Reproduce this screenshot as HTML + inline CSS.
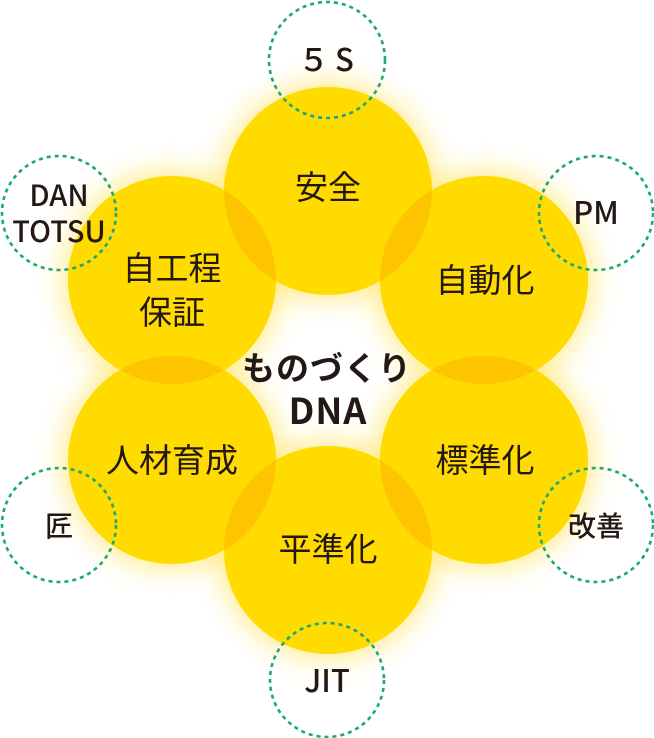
<!DOCTYPE html>
<html><head><meta charset="utf-8"><style>
html,body{margin:0;padding:0;background:#fff;width:654px;height:738px;overflow:hidden}
svg{display:block}
text{font-family:"Noto Sans CJK JP","Liberation Sans",sans-serif;fill:#231815}
</style></head><body>
<svg width="654" height="738" viewBox="0 0 654 738" xmlns="http://www.w3.org/2000/svg">
<defs>
<filter id="blur" x="-50%" y="-50%" width="200%" height="200%"><feGaussianBlur stdDeviation="14"/></filter>
<clipPath id="cT"><circle cx="328" cy="191" r="104"/></clipPath>
<clipPath id="cUL"><circle cx="172" cy="280" r="104"/></clipPath>
<clipPath id="cUR"><circle cx="484" cy="280" r="104"/></clipPath>
<clipPath id="cLL"><circle cx="172" cy="460" r="104"/></clipPath>
<clipPath id="cLR"><circle cx="484" cy="460" r="104"/></clipPath>
</defs>
<g filter="url(#blur)" fill="#ffe566" opacity="0.8">
<circle cx="328" cy="191" r="108"/><circle cx="172" cy="280" r="108"/><circle cx="484" cy="280" r="108"/>
<circle cx="172" cy="460" r="108"/><circle cx="484" cy="460" r="108"/><circle cx="328" cy="550" r="108"/>
</g>
<g fill="#ffdb00">
<circle cx="328" cy="191" r="104"/><circle cx="172" cy="280" r="104"/><circle cx="484" cy="280" r="104"/>
<circle cx="172" cy="460" r="104"/><circle cx="484" cy="460" r="104"/><circle cx="328" cy="550" r="104"/>
</g>
<g fill="#ffc400">
<circle cx="172" cy="280" r="104" clip-path="url(#cT)"/>
<circle cx="484" cy="280" r="104" clip-path="url(#cT)"/>
<circle cx="172" cy="460" r="104" clip-path="url(#cUL)"/>
<circle cx="484" cy="460" r="104" clip-path="url(#cUR)"/>
<circle cx="328" cy="550" r="104" clip-path="url(#cLL)"/>
<circle cx="328" cy="550" r="104" clip-path="url(#cLR)"/>
</g>
<g fill="none" stroke="#1aa878" stroke-width="2.6" stroke-dasharray="4 4">
<circle cx="327" cy="60" r="58"/>
<circle cx="59" cy="213" r="57"/>
<circle cx="596" cy="213" r="57"/>
<circle cx="59" cy="525" r="57"/>
<circle cx="596" cy="525" r="57"/>
<circle cx="327" cy="680" r="57"/>
</g>
<g font-size="33" text-anchor="middle">
<text x="328" y="199">安全</text>
<text x="172" y="280">自工程</text>
<text x="172" y="324">保証</text>
<text x="485" y="292">自動化</text>
<text x="172" y="472">人材育成</text>
<text x="485" y="472">標準化</text>
<text x="328" y="561">平準化</text>
</g>
<g font-size="33" font-weight="bold" text-anchor="middle">
<text x="327" y="380" letter-spacing="1">ものづくり</text>
<text x="328" y="424" font-size="36" letter-spacing="1">DNA</text>
</g>
<g font-size="31" font-weight="500" text-anchor="middle">
<text x="329" y="71" letter-spacing="6">５S</text>
<text x="59" y="206" font-size="29">DAN</text>
<text x="59" y="242" font-size="29">TOTSU</text>
<text x="596" y="224">PM</text>
<text x="59" y="536" font-size="28">匠</text>
<text x="596" y="536" font-size="28">改善</text>
<text x="327" y="692">JIT</text>
</g>
</svg>
</body></html>
